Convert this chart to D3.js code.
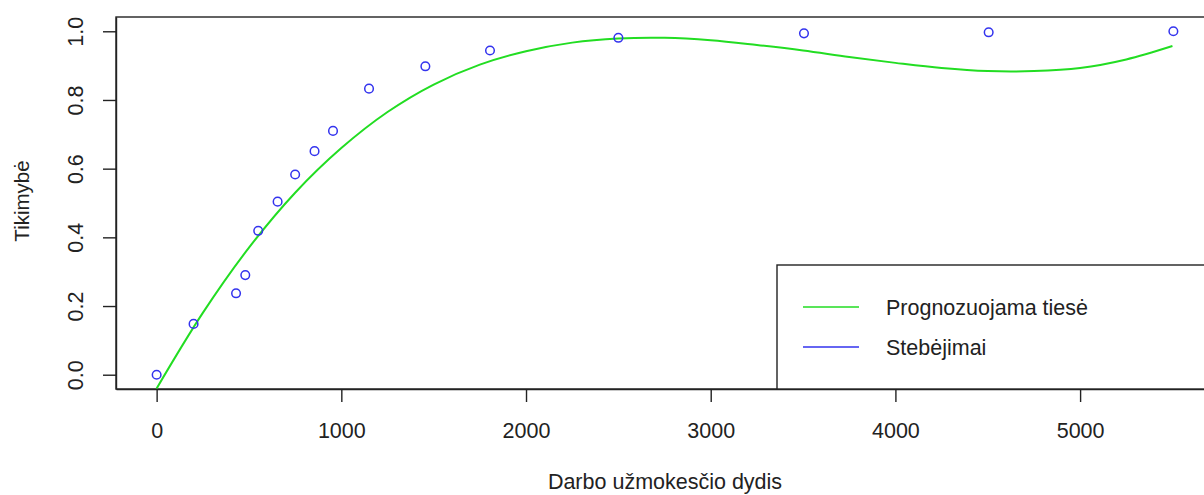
<!DOCTYPE html>
<html>
<head>
<meta charset="utf-8">
<script src="https://cdn.jsdelivr.net/npm/d3@7"></script>
<style>
  html, body { margin: 0; padding: 0; background: #fff; overflow: hidden; }
  text { font-family: "Liberation Sans", Arial, sans-serif; fill: #222; }
</style>
</head>
<body>
<svg id="chart" width="1204" height="495"></svg>
<script>
// Observed points (Stebėjimai)
const obsX = [0, 200, 430, 480, 550, 655, 750, 855, 955, 1150, 1455, 1805, 2500, 3505, 4505, 5505];
const obsY = [0, 0.148, 0.237, 0.29, 0.419, 0.504, 0.583, 0.651, 0.71, 0.833, 0.898, 0.944, 0.981, 0.994, 0.997, 1.0];

// Predicted curve (Prognozuojama tiesė)
const fitX = [0, 250, 500, 750, 1000, 1250, 1500, 1750, 2000, 2250, 2500, 2750, 3000, 3250, 3500, 3750, 4000, 4250, 4500, 4750, 5000, 5250, 5500];
const fitY = [-0.04, 0.18, 0.37, 0.53, 0.66, 0.765, 0.845, 0.903, 0.942, 0.967, 0.979, 0.981, 0.974, 0.960, 0.944, 0.925, 0.908, 0.893, 0.884, 0.884, 0.893, 0.918, 0.957];

const xTicks = [0, 1000, 2000, 3000, 4000, 5000];
const yTicks = [0, 0.2, 0.4, 0.6, 0.8, 1.0];

const xTitle = "Darbo užmokesčio dydis";
const yTitle = "Tikimybė";
const legendLabels = ["Prognozuojama tiesė", "Stebėjimai"];
const GREEN = "#22dd22";
const BLUE = "#3333ee";

const svg = d3.select("#chart");

const x = d3.scaleLinear().domain([-220, 5725]).range([116, 1214]);
const y = d3.scaleLinear().domain([-0.0416, 1.0416]).range([389, 17]);

const FS = 21.5;

// plot box
svg.append("rect")
  .attr("x", x(-220)).attr("y", y(1.0416))
  .attr("width", x(5725) - x(-220)).attr("height", y(-0.0416) - y(1.0416))
  .attr("fill", "none").attr("stroke", "#222").attr("stroke-width", 1.4);

// x axis
const xAxis = svg.append("g").attr("transform", `translate(0,${y(-0.0416)})`)
  .call(d3.axisBottom(x).tickValues(xTicks).tickSize(13).tickSizeOuter(0).tickFormat(d3.format("d")));
xAxis.select(".domain").attr("stroke", "#222").attr("stroke-width", 1.4);
xAxis.selectAll(".tick line").attr("stroke", "#222").attr("stroke-width", 1.4);
xAxis.selectAll(".tick text")
  .attr("y", 0).attr("dy", null)
  .attr("transform", "translate(0,49)")
  .style("font-size", FS + "px")
  .attr("fill", "#222")
  .style("font-family", "'Liberation Sans', Arial, sans-serif");

// y axis
const yAxis = svg.append("g").attr("transform", `translate(${x(-220)},0)`)
  .call(d3.axisLeft(y).tickValues(yTicks).tickSize(13).tickSizeOuter(0).tickFormat(d3.format(".1f")));
yAxis.select(".domain").attr("stroke", "#222").attr("stroke-width", 1.4);
yAxis.selectAll(".tick line").attr("stroke", "#222").attr("stroke-width", 1.4);
yAxis.selectAll(".tick text")
  .attr("x", 0).attr("dy", null)
  .attr("text-anchor", "middle")
  .attr("transform", "translate(-33,0) rotate(-90)")
  .style("font-size", FS + "px")
  .attr("fill", "#222")
  .style("font-family", "'Liberation Sans', Arial, sans-serif");

// titles
svg.append("text")
  .attr("x", (x(-220) + x(5725)) / 2).attr("y", 489)
  .attr("text-anchor", "middle")
  .style("font-size", FS + "px")
  .text(xTitle);

svg.append("text")
  .attr("transform", `translate(29,${(y(-0.0416) + y(1.0416)) / 2 - 2}) rotate(-90)`)
  .attr("text-anchor", "middle")
  .style("font-size", "20.5px")
  .text(yTitle);

// fitted curve
const fitData = fitX.map((d, i) => [d, fitY[i]]);
svg.append("path")
  .datum(fitData)
  .attr("d", d3.line().x(d => x(d[0])).y(d => y(d[1])).curve(d3.curveCatmullRom.alpha(0.5)))
  .attr("fill", "none").attr("stroke", GREEN).attr("stroke-width", 2);

// observations
const obsData = obsX.map((d, i) => [d, obsY[i]]);
svg.append("g").selectAll("circle")
  .data(obsData).join("circle")
  .attr("cx", d => x(d[0])).attr("cy", d => y(d[1]))
  .attr("r", 4.3)
  .attr("fill", "none").attr("stroke", BLUE).attr("stroke-width", 1.5);

// legend
const lgX = 777, lgY = 265;
svg.append("rect")
  .attr("x", lgX).attr("y", lgY)
  .attr("width", 1300 - lgX).attr("height", y(-0.0416) - lgY)
  .attr("fill", "#fff").attr("stroke", "#222").attr("stroke-width", 1.4);

const legendColors = [GREEN, BLUE];
const lg = svg.append("g").selectAll("g")
  .data(legendLabels).join("g")
  .attr("transform", (d, i) => `translate(${lgX},${lgY + 42 + i * 40})`);
lg.append("line")
  .attr("x1", 26).attr("x2", 82).attr("y1", 0).attr("y2", 0)
  .attr("stroke", (d, i) => legendColors[i]).attr("stroke-width", 1.6);
lg.append("text")
  .attr("x", 109).attr("y", 7.5)
  .style("font-size", FS + "px")
  .text(d => d);
</script>
</body>
</html>
